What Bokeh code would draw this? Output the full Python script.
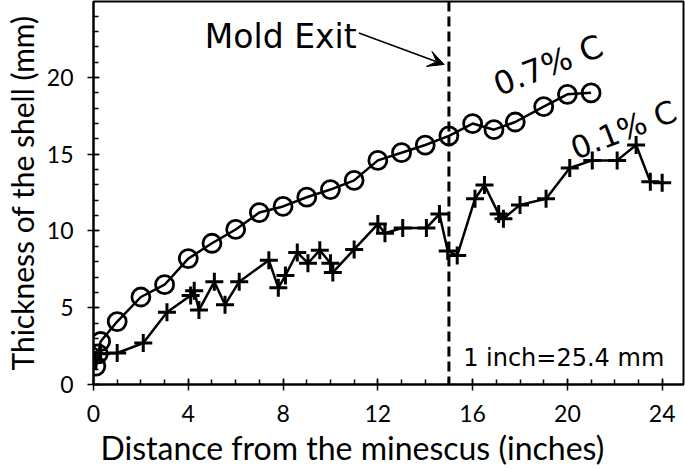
from bokeh.plotting import figure
from bokeh.models import (Span, Arrow, VeeHead, SingleIntervalTicker, Range1d, Label, Title)
from bokeh.embed import file_html
from bokeh.resources import INLINE

# 0.7% C series (circles)
x07 = [0.1, 0.2, 0.3, 1.0, 2.0, 3.0, 4.0, 5.0, 6.0, 7.0, 8.0, 9.0, 10.0, 11.0,
       12.0, 13.0, 14.0, 15.0, 16.0, 16.9, 17.8, 19.0, 20.0, 21.0]
y07 = [1.2, 2.0, 2.8, 4.1, 5.7, 6.5, 8.2, 9.2, 10.1, 11.2, 11.6, 12.2, 12.7, 13.3,
       14.6, 15.1, 15.6, 16.2, 17.0, 16.6, 17.1, 18.1, 18.9, 19.0]

# 0.1% C series (plus markers)
x01 = [0.1, 0.3, 1.0, 2.1, 3.1, 4.1, 4.25, 4.45, 5.1, 5.55, 6.15, 7.4, 7.8, 8.1,
       8.6, 9.05, 9.55, 10.0, 10.1, 11.0, 12.0, 12.3, 13.05, 14.05, 14.6, 14.95,
       15.35, 16.1, 16.5, 17.1, 17.3, 18.0, 19.1, 20.1, 21.05, 22.1, 22.9, 23.5, 24.0]
y01 = [1.6, 2.0, 2.05, 2.7, 4.7, 5.8, 6.1, 4.85, 6.7, 5.2, 6.7, 8.1, 6.3, 7.1,
       8.6, 7.9, 8.75, 7.9, 7.3, 8.8, 10.45, 9.85, 10.2, 10.2, 11.1, 8.7,
       8.4, 12.1, 13.0, 11.1, 10.8, 11.7, 12.1, 14.1, 14.6, 14.6, 15.6, 13.2, 13.15]

mold_exit_x = 15
label_07 = "0.7% C"
label_01 = "0.1% C"
mold_text = "Mold Exit"
note_text = "1 inch=25.4 mm"
x_title = "Distance from the minescus (inches)"
y_title = "Thickness of the shell (mm)"

p = figure(width=685, height=469, output_backend="svg", toolbar_location=None,
           x_range=Range1d(0, 24.9), y_range=Range1d(0, 24.95),
           min_border_left=93, min_border_right=2, min_border_top=1, min_border_bottom=85)
p.background_fill_color = "white"
p.border_fill_color = "white"
p.outline_line_color = "black"
p.outline_line_width = 2
p.grid.visible = False

for ax in (p.xaxis[0], p.yaxis[0]):
    ax.axis_line_width = 2
    ax.axis_line_color = "black"
    ax.major_tick_line_width = 1.5
    ax.minor_tick_line_width = 1.5
    ax.major_tick_in = 6
    ax.major_tick_out = 6
    ax.minor_tick_in = 5
    ax.minor_tick_out = 0
    ax.major_label_text_font = "Lato"
    ax.major_label_text_font_size = "23px"
    ax.major_label_text_color = "black"
    ax.axis_label_text_font = "Lato"
    ax.axis_label_text_font_size = "30px"
    ax.axis_label_text_font_style = "normal"
    ax.axis_label_text_color = "black"

p.xaxis.ticker = SingleIntervalTicker(interval=4, num_minor_ticks=4)
p.yaxis.ticker = SingleIntervalTicker(interval=5, num_minor_ticks=5)
p.xaxis.major_label_standoff = 14
p.yaxis.major_label_standoff = 14
p.yaxis.axis_label = y_title
p.yaxis.axis_label_standoff = 4

p.add_layout(Title(text=x_title, align="left", offset=7, text_font="Lato",
                   text_font_size="32px", text_font_style="normal",
                   text_color="black", standoff=2), "below")

p.add_layout(Span(location=mold_exit_x, dimension="height", line_color="black",
                  line_width=3, line_dash="10 5"))

p.line(x07, y07, line_color="black", line_width=2.5)
p.scatter(x07, y07, marker="circle", size=18, fill_color=None,
          line_color="black", line_width=2.8)

p.line(x01, y01, line_color="black", line_width=2.5)
p.scatter(x01, y01, marker="cross", size=18, line_color="black", line_width=3)

p.add_layout(Arrow(end=VeeHead(size=16, fill_color="black", line_color="black", line_width=1),
                   x_start=11.2, y_start=22.9, x_end=14.8, y_end=20.85,
                   line_color="black", line_width=1.5))

p.add_layout(Label(x=4.7, y=22.65, text=mold_text, text_font="DejaVu Sans",
                   text_font_size="33px", text_baseline="alphabetic", text_color="black"))
p.add_layout(Label(x=16.95, y=19.45, text=label_07, text_font="DejaVu Sans",
                   text_font_size="32px", text_baseline="alphabetic", angle=0.37,
                   text_color="black"))
p.add_layout(Label(x=20.2, y=15.3, text=label_01, text_font="DejaVu Sans",
                   text_font_size="31px", text_baseline="alphabetic", angle=0.37,
                   text_color="black"))
p.add_layout(Label(x=15.6, y=1.75, text=note_text, text_font="DejaVu Sans",
                   text_font_size="24px", text_baseline="alphabetic", text_color="black"))

open("out.html", "w").write(file_html(p, INLINE))
